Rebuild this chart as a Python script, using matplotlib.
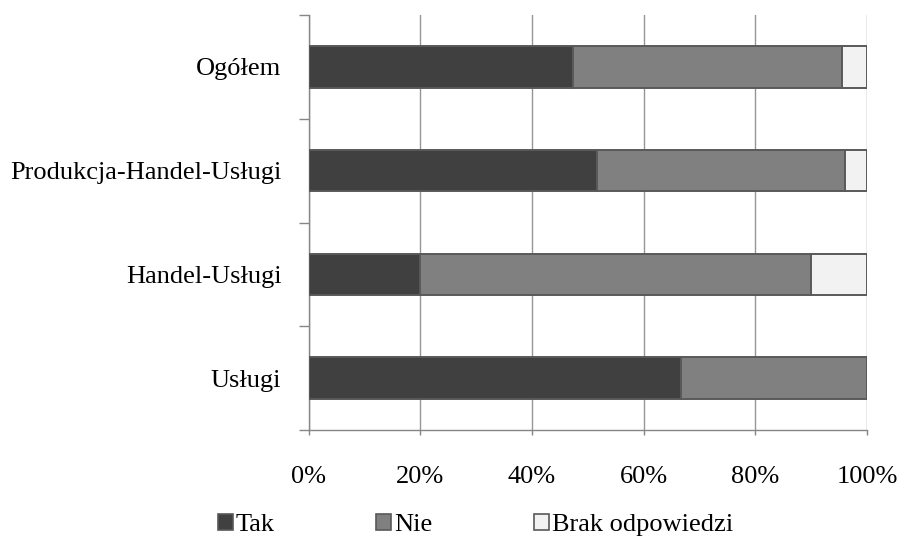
import matplotlib
matplotlib.use("Agg")
import matplotlib.pyplot as plt
from matplotlib.patches import Patch
import numpy as np

plt.rcParams['font.family'] = ['Liberation Serif', 'DejaVu Serif']

categories = ["Usługi", "Handel-Usługi", "Produkcja-Handel-Usługi", "Ogółem"]
tak = [66.7, 20.0, 51.7, 47.4]
nie = [33.3, 70.0, 44.3, 48.1]
brak = [0.0, 10.0, 4.0, 4.5]
series_names = ["Tak", "Nie", "Brak odpowiedzi"]
colors = ["#404040", "#808080", "#f2f2f2"]
xtick_labels = ["0%", "20%", "40%", "60%", "80%", "100%"]

FS = 19

fig = plt.figure(figsize=(8.98, 5.4), dpi=100)
ax = fig.add_axes([308.5 / 898, 1 - 430 / 540, (867 - 308.5) / 898, (430 - 15) / 540])

y = np.arange(len(categories))
left = np.zeros(len(categories))
for vals, col in zip([tak, nie, brak], colors):
    vals = np.array(vals)
    ax.barh(y, vals, left=left, height=0.4, color=col, edgecolor="#595959",
            linewidth=1.4, zorder=3)
    left += vals

ax.set_xlim(0, 100)
ax.set_ylim(-0.5, len(categories) - 0.5)

ax.set_xticks(np.arange(0, 101, 20))
ax.set_xticklabels(xtick_labels, fontsize=FS)
ax.tick_params(axis="x", direction="out", length=3.6, width=1, color="#868686", pad=22.5)
ax.xaxis.grid(True, color="#969696", linewidth=1, zorder=0)

ax.set_yticks(y)
ax.set_yticklabels(categories, fontsize=FS)
ax.tick_params(axis="y", which="major", length=0, pad=19.5)
ax.set_yticks(np.arange(-0.5, len(categories), 1), minor=True)
ax.tick_params(axis="y", which="minor", direction="out", length=7, width=1, color="#868686")

for s in ["top", "right"]:
    ax.spines[s].set_visible(False)
for s in ["left", "bottom"]:
    ax.spines[s].set_color("#868686")
    ax.spines[s].set_linewidth(1)

handles = [Patch(facecolor=c, edgecolor="#595959", linewidth=1.2) for c in colors]
fig.legend(handles, series_names, loc="center", bbox_to_anchor=(475.5 / 898, 1 - 525 / 540),
           ncol=3, frameon=False, fontsize=FS, handlelength=0.56, handleheight=0.56,
           handletextpad=0.12, columnspacing=3.85)

fig.savefig("out.png", dpi=100)
